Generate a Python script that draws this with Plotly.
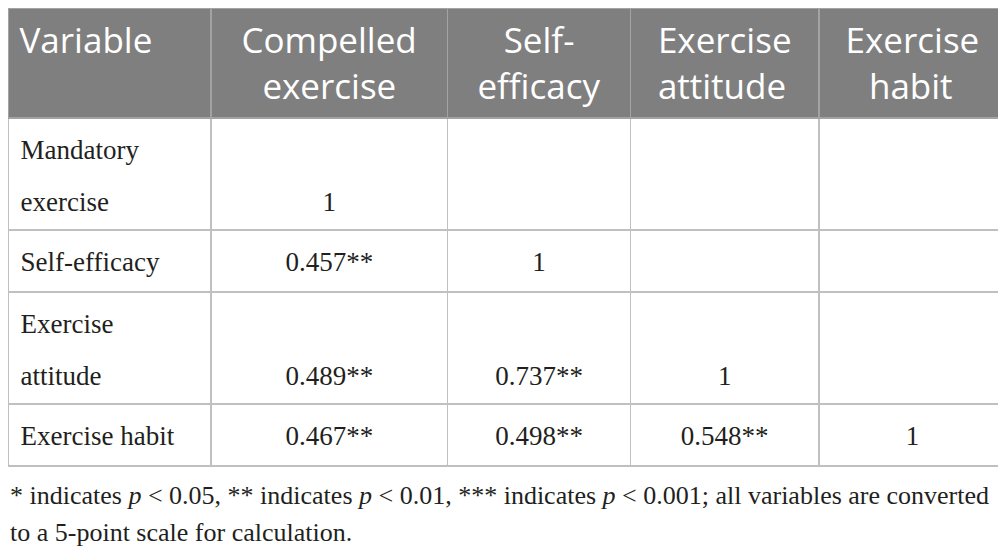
import plotly.graph_objects as go

# table data
header_labels = ["Variable", "Compelled<br>exercise", "Self-<br>efficacy",
                 "Exercise<br>attitude", "Exercise<br>habit"]
row_labels = ["Mandatory<br>exercise", "Self-efficacy", "Exercise<br>attitude",
              "Exercise habit"]
# lower triangle of the correlation matrix
corr = [[1],
        [0.457, 1],
        [0.489, 0.737, 1],
        [0.467, 0.498, 0.548, 1]]
sig = "**"
note_lines = ["* indicates <i>p</i> < 0.05, ** indicates <i>p</i> < 0.01, "
              "*** indicates <i>p</i> < 0.001; all variables are converted",
              "to a 5-point scale for calculation."]

# the page puts the figure 8px in from the top-left corner
W, H = 998, 551
HEAD = 35          # header font size
BODY = 27          # size of the body text
NOTE = 26
LINE_FONT = 40     # font of the cell itself, sets the 52px line pitch
TOP_PAD = 37       # invisible glyph that pushes the first line down
BOTTOM_PAD = 51    # invisible glyph that makes two-line rows taller
SERIF = "Liberation Serif"

# plotly centres a multi-line cell as one block, so the shorter header line
# gets some space on each side (in em of the header font)
head_short_pad = [0, 0.6, 0.75, 0.07, 0.67]


def spaces(em):
    out = ""
    for ch, w in [("\u2002", 0.5), ("\u2004", 1 / 3), ("\u2005", 0.25),
                  ("\u2006", 1 / 6), ("\u200a", 0.1)]:
        while em >= w - 0.02:
            out += ch
            em -= w
    return out


def pad(size):
    return "<span style='font-size:%dpx'>\u00a0</span>" % size


def txt(s):
    return "<span style='font-size:%dpx'>%s</span>" % (BODY, s)


def fmt(v):
    if v == 1:
        return "1"
    return "%.3f%s" % (v, sig)


def header_cell(lab, em):
    lines = lab.split("<br>")
    if len(lines) == 1:
        return "\u200a" + lines[0] + "<br>"
    widths = [len(l) for l in lines]
    short = widths.index(min(widths))
    s = spaces(em)
    lines[short] = s + lines[short] + s
    return "<br>".join(lines)


def label_cell(lab):
    lines = lab.split("<br>")
    out = [txt("\u2006" + lines[0]) + pad(TOP_PAD)]
    if len(lines) > 1:
        out.append(txt("\u2006" + lines[1]) + pad(BOTTOM_PAD))
    else:
        out.append("")
    return "<br>".join(out)


def value_cell(v, nlines):
    s = txt(fmt(v))
    if nlines == 1:
        return pad(TOP_PAD) + s + pad(TOP_PAD) + "<br>"
    return pad(TOP_PAD) + "<br>" + s


n = len(row_labels)
columns = [[label_cell(lab) for lab in row_labels]]
for j in range(n):
    col = []
    for i in range(n):
        if j < len(corr[i]):
            col.append(value_cell(corr[i][j], row_labels[i].count("<br>") + 1))
        else:
            col.append("")
    columns.append(col)

header_vals = [header_cell(lab, em) for lab, em in zip(header_labels, head_short_pad)]
left_center = ["left", "center", "center", "center", "center"]

fig = go.Figure()
fig.add_trace(go.Table(
    domain=dict(x=[0, 1], y=[0.08, 1]),
    columnwidth=[203, 236, 183, 188, 187],
    header=dict(values=header_vals,
                fill_color="#7f7f7f",
                line=dict(color="#a3a3a3", width=1.5),
                align=left_center,
                font=dict(family="Open Sans", size=HEAD, color="white"),
                height=110),
    cells=dict(values=columns,
               fill_color="white",
               line=dict(color="#c0c0c0", width=1.5),
               align=left_center,
               font=dict(family=SERIF, size=LINE_FONT, color="#231f20"),
               height=62),
))

for k, line in enumerate(note_lines):
    fig.add_annotation(text=line, x=0, xref="paper", xanchor="left",
                       y=1 - (471 + 37 * k) / H, yref="paper", yanchor="top",
                       showarrow=False,
                       font=dict(family=SERIF, size=NOTE, color="#231f20"))

fig.update_layout(width=W, height=H, margin=dict(l=0, r=0, t=0, b=0),
                  paper_bgcolor="white", plot_bgcolor="white")

fig.write_html("out.html")
